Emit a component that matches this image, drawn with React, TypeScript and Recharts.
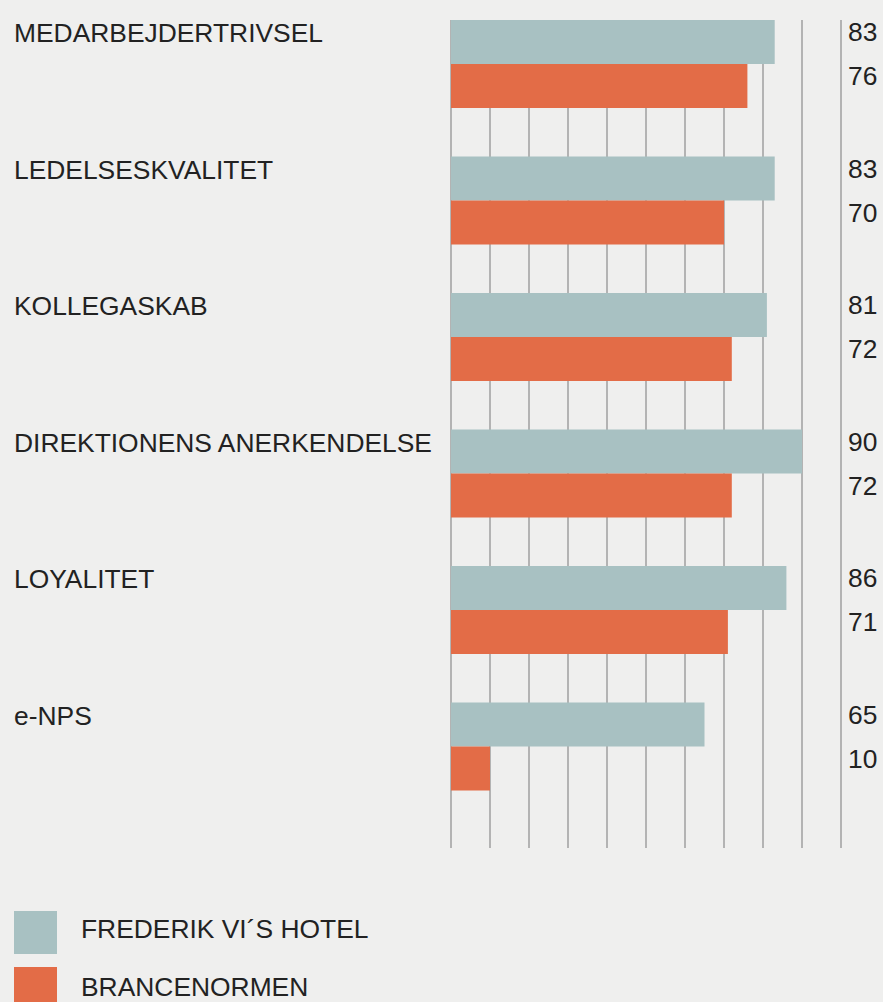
import React from "react";
import { Bar, BarChart, CartesianGrid, LabelList, XAxis, YAxis } from "recharts";

const categories = [
  "MEDARBEJDERTRIVSEL",
  "LEDELSESKVALITET",
  "KOLLEGASKAB",
  "DIREKTIONENS ANERKENDELSE",
  "LOYALITET",
  "e-NPS",
];
const hotelValues = [83, 83, 81, 90, 86, 65];
const normValues = [76, 70, 72, 72, 71, 10];
const xTicks = [0, 10, 20, 30, 40, 50, 60, 70, 80, 90, 100];
const seriesNames = ["FREDERIK VI´S HOTEL", "BRANCENORMEN"];
const seriesColors = ["#a8c1c2", "#e36c47"];

const FONT = "'Liberation Sans', Arial, Helvetica, sans-serif";
const TEXT = "#222222";
const BG = "#efefee";

const data = categories.map((name, i) => ({
  name,
  hotel: hotelValues[i],
  norm: normValues[i],
  spacer: 0,
}));

function CategoryTick({ y, payload }: any) {
  return (
    <text x={14} y={y - 46} fill={TEXT} fontSize={26.4} fontFamily={FONT}>
      {payload.value}
    </text>
  );
}

function ValueLabel({ y, value }: any) {
  return (
    <text x={848} y={Number(y) + 21} fill={TEXT} fontSize={26.4} fontFamily={FONT}>
      {value}
    </text>
  );
}

export default function App() {
  return (
    <div style={{ position: "absolute", left: 0, top: 0, width: 883, height: 1002, background: BG, overflow: "hidden" }}>
      <BarChart
        width={883}
        height={900}
        data={data}
        layout="vertical"
        margin={{ top: 20, right: 42, bottom: 52, left: 0 }}
        barCategoryGap={0}
        barGap={0}
      >
        <CartesianGrid horizontal={false} stroke="#b3b3b3" strokeWidth={2} />
        <XAxis type="number" domain={[0, 100]} ticks={xTicks} hide />
        <YAxis
          type="category"
          dataKey="name"
          width={451}
          axisLine={false}
          tickLine={false}
          tick={<CategoryTick />}
          padding={{ top: 0, bottom: 9 }}
        />
        <Bar dataKey="hotel" fill={seriesColors[0]} barSize={44} isAnimationActive={false}>
          <LabelList dataKey="hotel" content={<ValueLabel />} />
        </Bar>
        <Bar dataKey="norm" fill={seriesColors[1]} barSize={44} isAnimationActive={false}>
          <LabelList dataKey="norm" content={<ValueLabel />} />
        </Bar>
        <Bar dataKey="spacer" fill="transparent" barSize={48} isAnimationActive={false} legendType="none" />
      </BarChart>
      <svg width={883} height={102} style={{ display: "block" }}>
        {seriesNames.map((name, i) => (
          <g key={name}>
            <rect x={14} y={11 + i * 56} width={43} height={43} fill={seriesColors[i]} />
            <text x={81} y={38 + i * 58} fill={TEXT} fontSize={26.4} fontFamily={FONT}>
              {name}
            </text>
          </g>
        ))}
      </svg>
    </div>
  );
}
